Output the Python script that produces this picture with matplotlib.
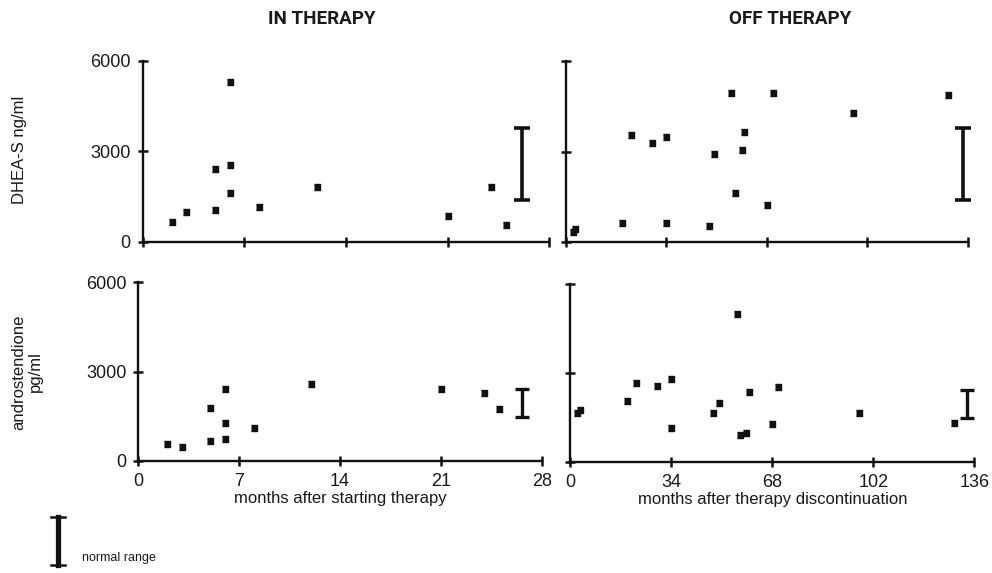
import matplotlib
matplotlib.use("Agg")
import matplotlib.pyplot as plt
from matplotlib.lines import Line2D

plt.rcParams['font.family'] = ['Liberation Sans', 'DejaVu Sans']

# ---- data ----
# In therapy (months after starting therapy)
in_dhea_months = [2, 3, 5, 5, 6, 6, 6, 8, 12, 21, 24, 25]
in_dhea_values = [650, 1000, 2400, 1050, 5300, 2540, 1630, 1150, 1830, 840, 1830, 560]
in_andro_months = [2, 3, 5, 5, 6, 6, 6, 8, 12, 21, 24, 25]
in_andro_values = [560, 480, 1780, 675, 2400, 1290, 740, 1100, 2570, 2400, 2290, 1760]

# Off therapy (months after therapy discontinuation)
off_dhea_months = [2.3, 3.1, 19, 22, 29, 34, 34, 48.5, 50, 56, 57.3, 59.6, 60.2, 68, 70, 97, 129.4]
off_dhea_values = [350, 440, 630, 3550, 3300, 3500, 630, 540, 2920, 4930, 1620, 3060, 3640, 1240, 4930, 4270, 4870]
off_andro_months = [2.2, 3.1, 19, 22, 29, 34, 34, 48, 50, 56, 57, 59, 60, 68, 70, 97, 129]
off_andro_values = [1670, 1760, 2070, 2680, 2580, 2790, 1140, 1670, 2010, 4980, 920, 1000, 2360, 1290, 2520, 1650, 1310]

# normal ranges (low, high) and where the bar is drawn
dhea_range = (1400, 3780)
andro_range = (1480, 2430)
range_pos_in = [26.15, 26.65]
range_pos_off = [134.4, 133.5]

in_ticks = [0, 7, 14, 21, 28]
off_ticks = [0, 34, 68, 102, 136]
y_ticks = [0, 3000, 6000]

fig = plt.figure(figsize=(9.92, 5.73), dpi=100)

# axes positions (figure fraction)
ax_tl = fig.add_axes([0.1438, 0.5782, 0.4099, 0.3154])
ax_tr = fig.add_axes([0.5706, 0.5771, 0.4049, 0.3164])
ax_bl = fig.add_axes([0.1394, 0.1955, 0.4067, 0.3119])
ax_br = fig.add_axes([0.5751, 0.1932, 0.4071, 0.3112])

rect = [(-0.4, -0.5), (0.4, -0.5), (0.4, 0.5), (-0.4, 0.5)]
txt = '#1a1a1a'


def style(ax, xt, xmax, show_x, show_y):
    for s in ['top', 'right']:
        ax.spines[s].set_visible(False)
    for s in ['left', 'bottom']:
        ax.spines[s].set_linewidth(1.7)
        ax.spines[s].set_color('#111111')
    ax.set_xlim(0, xmax)
    ax.set_ylim(0, 6000)
    ax.set_xticks(xt)
    ax.set_yticks(y_ticks)
    ax.tick_params(direction='inout', length=7, width=1.8, color='#111111',
                   labelsize=13, labelcolor=txt, pad=5)
    if not show_x:
        ax.set_xticklabels([])
    if not show_y:
        ax.set_yticklabels([])
    ax.patch.set_alpha(0)


def scatter(ax, x, y):
    ax.plot(x, y, linestyle='none', marker=rect, markersize=5.0,
            color='#111111', clip_on=False, zorder=3)


def normal_bar(ax, xpos, rng, lw, cap):
    mid = (rng[0] + rng[1]) / 2
    half = (rng[1] - rng[0]) / 2
    ax.errorbar([xpos], [mid], yerr=[[half], [half]], fmt='none',
                ecolor='#111111', elinewidth=lw, capsize=cap, capthick=lw,
                clip_on=False, zorder=3)


style(ax_tl, in_ticks, 28, False, True)
style(ax_tr, off_ticks, 136, False, False)
style(ax_bl, in_ticks, 28, True, True)
style(ax_br, off_ticks, 136, True, False)

scatter(ax_tl, in_dhea_months, in_dhea_values)
scatter(ax_tr, off_dhea_months, off_dhea_values)
scatter(ax_bl, in_andro_months, in_andro_values)
scatter(ax_br, off_andro_months, off_andro_values)

normal_bar(ax_tl, range_pos_in[0], dhea_range, 2.6, 6)
normal_bar(ax_tr, range_pos_off[0], dhea_range, 2.6, 6)
normal_bar(ax_bl, range_pos_in[1], andro_range, 2.4, 5)
normal_bar(ax_br, range_pos_off[1], andro_range, 2.4, 5)

ax_bl.set_xlabel('months after starting therapy', fontsize=12, color=txt, labelpad=1)
ax_br.set_xlabel('months after therapy discontinuation', fontsize=12, color=txt, labelpad=1)

fig.text(20 / 992, 1 - 150 / 573, 'DHEA-S ng/ml', rotation=90, fontsize=12,
         color=txt, ha='center', va='center')
fig.text(27 / 992, 1 - 372 / 573, 'androstendione\npg/ml', rotation=90, fontsize=12,
         color=txt, ha='center', va='center', linespacing=1.1)

title_font = ['Roboto', 'DejaVu Sans']
fig.text(322 / 992, 1 - 19 / 573, 'IN THERAPY', fontsize=13.5, fontweight='bold',
         family=title_font, color=txt, ha='center', va='center')
fig.text(790 / 992, 1 - 19 / 573, 'OFF THERAPY', fontsize=13.5, fontweight='bold',
         family=title_font, color=txt, ha='center', va='center')

# legend symbol for the normal range bars (drawn in figure pixels)
W, H = 992, 573
def fx(px):
    return px / W
def fy(py):
    return 1 - py / H

fig.add_artist(Line2D([fx(58), fx(58)], [fy(517), fy(565)], lw=3.8, color='#111111'))
fig.add_artist(Line2D([fx(51), fx(65)], [fy(517), fy(517)], lw=1.8, color='#111111'))
fig.add_artist(Line2D([fx(51), fx(65)], [fy(565), fy(565)], lw=1.8, color='#111111'))
fig.text(82 / 992, 1 - 558 / 573, 'normal range', fontsize=9, color=txt,
         ha='left', va='center')

fig.savefig('out.png', dpi=100)
